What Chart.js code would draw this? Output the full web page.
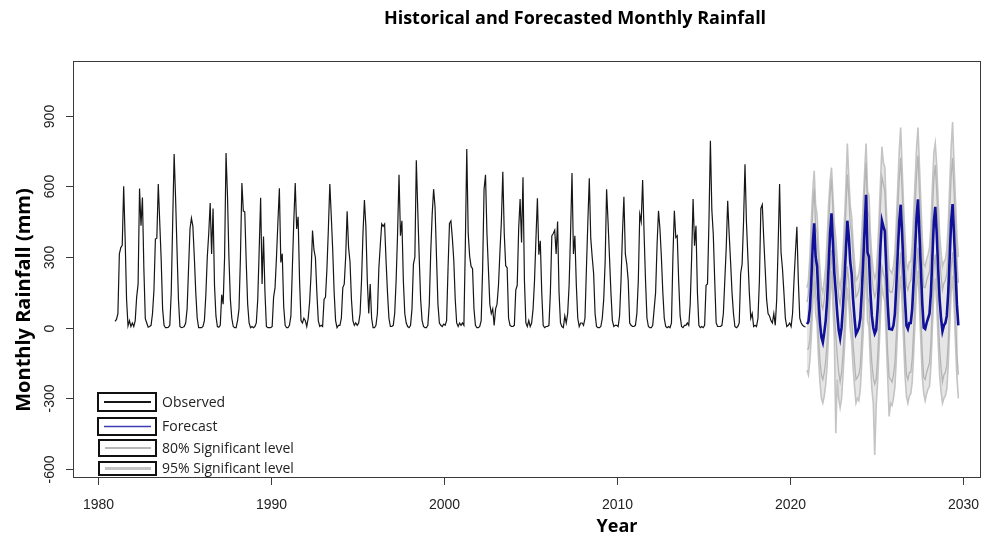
<!DOCTYPE html>
<html>
<head>
<meta charset="utf-8">
<script src="https://cdn.jsdelivr.net/npm/chart.js@4.4.0/dist/chart.umd.min.js"></script>
<style>
  html, body { margin: 0; padding: 0; background: #fff; }
  #wrap { width: 984px; height: 539px; }
</style>
</head>
<body>
<div id="wrap"><canvas id="rain" width="984" height="539"></canvas></div>
<script>
// Monthly rainfall (mm), Jan 1981 .. Dec 2020, one row per year
const observedStart = 1981;
const observed = [
  27, 35, 60, 313, 340, 350, 600, 380, 120, 8, 30, 5,      // 1981
  20, 5, 30, 130, 185, 591, 433, 553, 250, 38, 20, 2,      // 1982
  5, 10, 60, 160, 376, 380, 610, 450, 291, 80, 10, 0,      // 1983
  0, 2, 10, 150, 450, 737, 550, 330, 120, 5, 0, 2,         // 1984
  5, 20, 80, 250, 420, 465, 430, 300, 150, 40, 0, 0,       // 1985
  0, 5, 30, 140, 300, 400, 529, 313, 506, 180, 50, 5,      // 1986
  2, 10, 140, 100, 300, 741, 560, 300, 120, 40, 5, 0,      // 1987
  0, 30, 80, 300, 614, 495, 492, 280, 100, 20, 0, 5,       // 1988
  0, 5, 20, 120, 330, 552, 185, 387, 150, 5, 0, 0,         // 1989
  0, 5, 130, 170, 300, 450, 592, 277, 314, 90, 10, 0,      // 1990
  0, 10, 50, 250, 450, 614, 419, 471, 200, 30, 20, 40,     // 1991
  30, 5, 40, 110, 230, 412, 330, 298, 150, 30, 5, 10,      // 1992
  5, 120, 130, 250, 420, 610, 475, 330, 150, 30, 0, 10,    // 1993
  10, 40, 170, 185, 300, 494, 341, 280, 120, 30, 10, 20,   // 1994
  10, 20, 60, 200, 400, 542, 430, 200, 60, 185, 40, 0,     // 1995
  0, 10, 60, 250, 350, 440, 430, 440, 284, 150, 40, 5,     // 1996
  5, 10, 60, 200, 400, 649, 390, 454, 200, 60, 20, 5,      // 1997
  0, 10, 80, 270, 300, 711, 500, 300, 120, 30, 5, 0,       // 1998
  0, 10, 100, 320, 480, 588, 511, 300, 100, 20, 10, 5,     // 1999
  15, 10, 30, 250, 443, 453, 380, 284, 120, 20, 5, 20,     // 2000
  10, 20, 10, 350, 758, 400, 303, 260, 250, 80, 10, 0,     // 2001
  0, 5, 30, 250, 588, 649, 400, 250, 100, 60, 80, 10,      // 2002
  80, 100, 180, 320, 450, 662, 400, 263, 255, 40, 10, 5,   // 2003
  5, 10, 160, 180, 420, 546, 362, 638, 200, 20, 5, 30,     // 2004
  5, 20, 80, 200, 380, 549, 310, 369, 150, 10, 0, 5,       // 2005
  5, 10, 150, 390, 400, 414, 313, 451, 150, 20, 5, 0,      // 2006
  50, 20, 60, 180, 400, 657, 313, 390, 180, 40, 5, 20,     // 2007
  20, 10, 40, 250, 450, 634, 380, 300, 230, 60, 5, 0,      // 2008
  0, 5, 40, 120, 280, 588, 450, 300, 150, 30, 5, 10,       // 2009
  10, 5, 50, 200, 400, 556, 313, 270, 200, 20, 10, 5,      // 2010
  5, 10, 60, 200, 482, 450, 627, 400, 200, 40, 5, 0,       // 2011
  0, 10, 80, 150, 350, 496, 420, 300, 150, 40, 5, 0,       // 2012
  5, 0, 20, 300, 496, 383, 390, 200, 50, 5, 0, 10,         // 2013
  10, 20, 10, 100, 300, 546, 348, 433, 150, 10, 0, 5,      // 2014
  0, 10, 180, 186, 450, 793, 500, 397, 200, 20, 5, 5,      // 2015
  5, 10, 60, 200, 341, 539, 400, 280, 150, 60, 5, 0,       // 2016
  5, 20, 230, 270, 450, 694, 450, 300, 150, 40, 60, 5,     // 2017
  10, 5, 40, 200, 506, 522, 380, 250, 120, 60, 50, 30,     // 2018
  20, 60, 10, 120, 350, 610, 320, 250, 150, 40, 5, 10,     // 2019
  20, 5, 60, 200, 320, 428, 200, 40, 20, 10, 5, 3          // 2020
];

// Forecast and bounds, Jan 2021 .. Oct 2029
const forecastStart = 2021;
const forecast = [
  15, 25, 80, 200, 350, 443, 300, 260, 120, 20, -40, -62,
  -20, 30, 120, 259, 400, 485, 360, 230, 150, 60, -10, -44,
  0, 90, 200, 330, 454, 390, 280, 228, 120, 40, -27, -15,
  0, 40, 150, 280, 420, 564, 320, 300, 150, 50, 0, -25,
  -10, 80, 200, 350, 454, 430, 410, 250, 100, -5, -6, -8,
  10, 60, 180, 320, 450, 522, 400, 250, 120, 10, -5, 20,
  20, 80, 200, 330, 470, 545, 400, 250, 100, 0, -5, 20,
  40, 60, 150, 300, 450, 513, 400, 250, 120, 40, -14, 10,
  20, 50, 150, 300, 450, 525, 397, 250, 100, 10
];
const upper95 = [
  170, 200, 300, 450, 580, 666, 520, 480, 350, 250, 170, 150,
  200, 260, 380, 520, 620, 680, 560, 440, 380, 290, 200, 170,
  220, 320, 450, 600, 782, 640, 520, 470, 360, 280, 200, 210,
  230, 280, 400, 530, 660, 782, 580, 560, 400, 300, 240, 210,
  230, 330, 460, 620, 768, 700, 680, 510, 360, 250, 240, 230,
  260, 320, 450, 600, 750, 850, 680, 520, 390, 270, 250, 280,
  280, 350, 480, 620, 760, 850, 690, 530, 380, 270, 260, 290,
  310, 340, 430, 600, 740, 782, 690, 540, 400, 320, 260, 280,
  290, 330, 440, 600, 760, 873, 700, 540, 390, 300
];
const upper80 = [
  110, 140, 230, 360, 500, 590, 430, 400, 270, 170, 100, 80,
  120, 180, 290, 430, 560, 630, 500, 370, 300, 210, 130, 100,
  150, 240, 360, 500, 650, 560, 440, 400, 290, 200, 130, 140,
  160, 200, 320, 450, 590, 700, 500, 470, 320, 220, 160, 130,
  150, 250, 370, 520, 640, 610, 580, 420, 270, 160, 150, 150,
  180, 240, 360, 500, 630, 720, 580, 420, 300, 180, 160, 190,
  200, 260, 380, 510, 650, 730, 580, 430, 280, 170, 170, 200,
  220, 240, 330, 490, 630, 690, 580, 430, 300, 220, 160, 190,
  200, 230, 330, 490, 640, 720, 580, 430, 290, 190
];
const lower80 = [
  -90, -90, -50, 50, 190, 290, 150, 110, -40, -140, -200, -220,
  -190, -140, -60, 80, 220, 330, 190, 60, -30, -120, -190, -230,
  -190, -110, 10, 140, 260, 200, 90, 40, -70, -150, -220, -210,
  -200, -160, -50, 80, 230, 370, 130, 110, -50, -150, -210, -240,
  -220, -130, 0, 150, 260, 230, 210, 50, -110, -210, -220, -230,
  -200, -150, -30, 120, 250, 320, 200, 50, -90, -200, -220, -190,
  -190, -130, -10, 130, 270, 340, 200, 50, -110, -210, -220, -190,
  -170, -150, -60, 100, 250, 310, 200, 50, -90, -170, -230, -200,
  -190, -160, -60, 100, 250, 320, 200, 50, -110, -200
];
const lower95 = [
  -180, -200, -140, -40, 100, 200, 60, 20, -130, -230, -300, -320,
  -290, -240, -160, -20, 130, 240, 90, -40, -448, -220, -300, -340,
  -300, -200, -90, 40, 170, 110, 0, -60, -170, -250, -320, -300,
  -310, -260, -150, -20, 130, 280, 30, 0, -150, -260, -320, -540,
  -330, -230, -90, 50, 170, 140, 110, -50, -210, -377, -320, -330,
  -300, -250, -130, 20, 150, 220, 100, -50, -200, -292, -320, -290,
  -280, -230, -110, 30, 170, 240, 100, -60, -210, -278, -310, -280,
  -260, -250, -160, 0, 150, 210, 100, -60, -200, -270, -320, -300,
  -290, -260, -160, 0, 150, 220, 100, -60, -210, -300
];

const xTicks = [1980, 1990, 2000, 2010, 2020, 2030];
const yTicks = [-600, -300, 0, 300, 600, 900];
const legendLabels = ['Observed', 'Forecast', '80% Significant level', '95% Significant level'];

const BLACK = '#161616';
const BLUE = '#10109a';
const GREY80 = '#b4b4b4';
const GREY95 = '#c4c4c4';

function toPoints(values, startYear) {
  return values.map((v, i) => ({ x: startYear + i / 12, y: v }));
}

function lineSet(label, values, start, color, width, order, fill) {
  return {
    label: label,
    data: toPoints(values, start),
    borderColor: color,
    backgroundColor: 'rgba(196, 196, 196, 0.42)',
    borderWidth: width,
    pointRadius: 0,
    tension: 0,
    fill: fill === undefined ? false : fill,
    order: order
  };
}

// R-like frame, ticks, titles and legend
const rDecorations = {
  id: 'rDecorations',
  afterDraw(chart) {
    const ctx = chart.ctx;
    const a = chart.chartArea;
    const xs = chart.scales.x;
    const ys = chart.scales.y;
    ctx.save();

    ctx.strokeStyle = '#3a3a3a';
    ctx.lineWidth = 1;
    ctx.strokeRect(a.left + 0.5, a.top + 0.5, a.right - a.left - 1, a.bottom - a.top - 1);

    ctx.fillStyle = '#222';
    ctx.font = '14px "Liberation Sans", Arial, sans-serif';
    ctx.textAlign = 'center';
    ctx.textBaseline = 'middle';
    xTicks.forEach(t => {
      const px = Math.round(xs.getPixelForValue(t)) + 0.5;
      ctx.beginPath();
      ctx.moveTo(px, a.bottom);
      ctx.lineTo(px, a.bottom + 7);
      ctx.stroke();
      ctx.fillText(String(t), px, a.bottom + 27);
    });
    yTicks.forEach(t => {
      const py = Math.round(ys.getPixelForValue(t)) + 0.5;
      ctx.beginPath();
      ctx.moveTo(a.left, py);
      ctx.lineTo(a.left - 7, py);
      ctx.stroke();
      ctx.save();
      ctx.translate(a.left - 23, py);
      ctx.rotate(-Math.PI / 2);
      ctx.fillText(String(t), 0, 0);
      ctx.restore();
    });

    // titles
    ctx.fillStyle = '#000';
    ctx.font = 'bold 18px "Open Sans", sans-serif';
    ctx.fillText('Historical and Forecasted Monthly Rainfall', 575, 19);
    ctx.fillText('Year', 617, 527);
    ctx.save();
    ctx.translate(24, 300);
    ctx.rotate(-Math.PI / 2);
    ctx.font = 'bold 20px "Open Sans", sans-serif';
    ctx.fillText('Monthly Rainfall (mm)', 0, 0);
    ctx.restore();

    // legend: one framed sample per entry
    const boxes = [
      { x: 98, y: 393, w: 58, h: 18, color: BLACK, lw: 2 },
      { x: 98, y: 418, w: 58, h: 17, color: '#3c3cb4', lw: 1.5 },
      { x: 99, y: 440, w: 57, h: 16, color: '#a0a0a0', lw: 1.5 },
      { x: 99, y: 462, w: 57, h: 13, color: GREY95, lw: 3 }
    ];
    ctx.textAlign = 'left';
    ctx.font = '14px "Open Sans", sans-serif';
    boxes.forEach((b, i) => {
      ctx.strokeStyle = '#111';
      ctx.lineWidth = 2;
      ctx.strokeRect(b.x, b.y, b.w, b.h);
      const my = b.y + b.h / 2;
      ctx.strokeStyle = b.color;
      ctx.lineWidth = b.lw;
      ctx.beginPath();
      ctx.moveTo(b.x + 6, my);
      ctx.lineTo(b.x + b.w - 5, my);
      ctx.stroke();
      ctx.fillStyle = '#222';
      ctx.fillText(legendLabels[i], 162, my + 1);
    });

    ctx.restore();
  }
};

new Chart(document.getElementById('rain').getContext('2d'), {
  type: 'line',
  data: {
    datasets: [
      lineSet('Observed', observed, observedStart, BLACK, 1.2, 1),
      lineSet('Forecast', forecast, forecastStart, BLUE, 2.6, 2),
      lineSet('Upper 80%', upper80, forecastStart, GREY80, 1.3, 3),
      lineSet('Lower 80%', lower80, forecastStart, GREY80, 1.3, 4),
      lineSet('Upper 95%', upper95, forecastStart, GREY95, 1.6, 5, 5),
      lineSet('Lower 95%', lower95, forecastStart, GREY95, 1.6, 6)
    ]
  },
  options: {
    responsive: false,
    animation: false,
    layout: { padding: { left: 73, right: 3, top: 61, bottom: 61 } },
    scales: {
      x: { type: 'linear', min: 1978.57, max: 2031.06, display: false },
      y: { type: 'linear', min: -638, max: 1132, display: false }
    },
    plugins: {
      legend: { display: false },
      tooltip: { enabled: false }
    }
  },
  plugins: [rDecorations]
});
</script>
</body>
</html>
